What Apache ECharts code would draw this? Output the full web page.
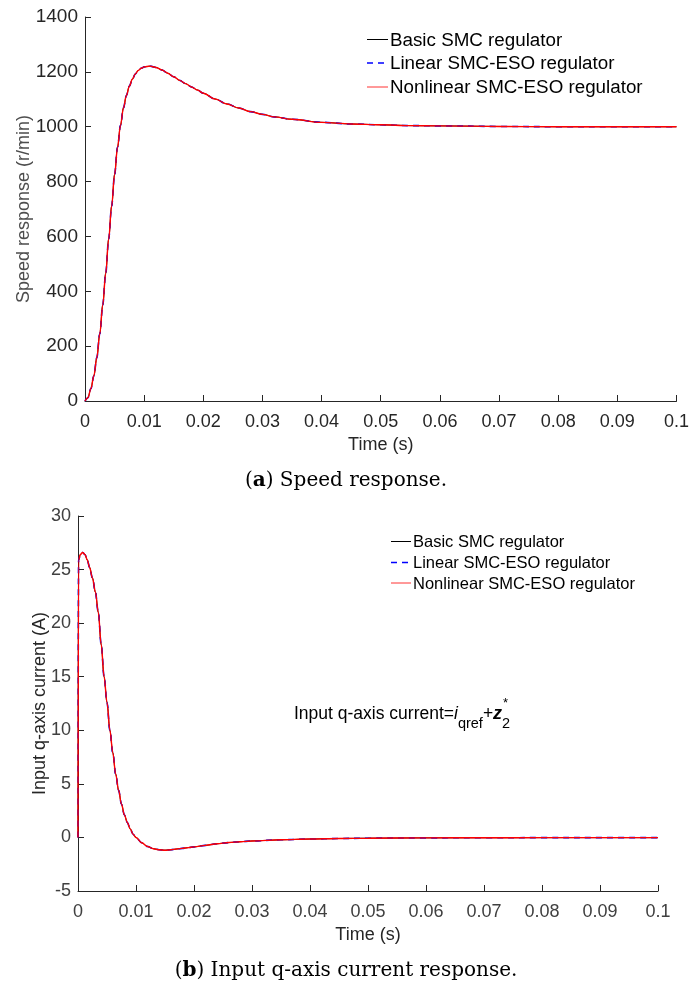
<!DOCTYPE html>
<html>
<head>
<meta charset="utf-8">
<script src="https://cdn.jsdelivr.net/npm/echarts@6/dist/echarts.min.js"></script>
<style>
html,body{margin:0;padding:0;background:#fff;}
#chart{width:692px;height:984px;}
</style>
</head>
<body>
<div id="chart"></div>
<script>
// ---------- data ----------
const seriesNames = ['Basic SMC regulator', 'Linear SMC-ESO regulator', 'Nonlinear SMC-ESO regulator'];
const xTickLabels = ['0','0.01','0.02','0.03','0.04','0.05','0.06','0.07','0.08','0.09','0.1'];
const speedTickLabels = ['0','200','400','600','800','1000','1200','1400'];
const currentTickLabels = ['-5','0','5','10','15','20','25','30'];

const speedTime = [0,0.0005,0.001,0.0015,0.002,0.0025,0.003,0.0035,0.004,0.0045,0.005,0.0055,0.006,0.0065,0.007,0.0075,0.008,0.0085,0.009,0.0095,0.01,0.011,0.012,0.013,0.014,0.015,0.016,0.017,0.018,0.019,0.02,0.022,0.024,0.026,0.028,0.03,0.032,0.035,0.04,0.045,0.05,0.055,0.06,0.07,0.08,0.09,0.1];
const speedBasic =     [0,12,45,92,158,245,350,465,590,710,825,925,1005,1068,1114,1148,1173,1192,1205,1213,1218,1221,1216,1207,1195,1182,1169,1157,1145,1134,1122,1101,1083,1068,1055,1045,1036,1027,1016,1010,1007,1004,1003,1001,1000,1000,1000];
const speedLinear =    [0,12,45,92,158,245,350,465,590,710,825,925,1005,1068,1114,1148,1173,1192,1205,1213,1218,1221,1216,1207,1195,1182,1169,1157,1145,1134,1122,1101,1083,1068,1055,1045,1036,1027,1016,1010,1007,1004,1003,1001,1000,1000,1000];
const speedNonlinear = [0,12,45,92,158,245,350,465,590,710,825,925,1005,1068,1114,1148,1173,1192,1205,1213,1218,1221,1216,1207,1195,1182,1169,1157,1145,1134,1122,1101,1083,1068,1055,1045,1036,1027,1016,1010,1007,1004,1003,1001,1000,1000,1000];

const currentTime = [0,0.0001,0.0004,0.0008,0.0012,0.0016,0.002,0.0025,0.003,0.0035,0.004,0.0045,0.005,0.0055,0.006,0.0065,0.007,0.0075,0.008,0.0085,0.009,0.0095,0.01,0.011,0.012,0.013,0.014,0.015,0.016,0.017,0.018,0.019,0.02,0.022,0.024,0.026,0.028,0.03,0.035,0.04,0.045,0.05,0.06,0.07,0.08,0.09,0.1];
const currentBasic =     [0,25.9,26.4,26.6,26.4,25.9,25.2,24.2,22.9,21.0,18.0,15.0,12.6,10.0,7.9,5.9,4.4,3.1,2.1,1.4,0.8,0.3,0.0,-0.5,-0.85,-1.05,-1.15,-1.19,-1.15,-1.08,-1.02,-0.95,-0.88,-0.74,-0.59,-0.48,-0.40,-0.33,-0.22,-0.15,-0.10,-0.07,-0.04,-0.03,-0.02,-0.02,-0.02];
const currentLinear =    [0,25.9,26.4,26.6,26.4,25.9,25.2,24.2,22.9,21.0,18.0,15.0,12.6,10.0,7.9,5.9,4.4,3.1,2.1,1.4,0.8,0.3,0.0,-0.5,-0.85,-1.05,-1.15,-1.19,-1.15,-1.08,-1.02,-0.95,-0.88,-0.74,-0.59,-0.48,-0.40,-0.33,-0.22,-0.15,-0.10,-0.07,-0.04,-0.03,-0.02,-0.02,-0.02];
const currentNonlinear = [0,25.9,26.4,26.6,26.4,25.9,25.2,24.2,22.9,21.0,18.0,15.0,12.6,10.0,7.9,5.9,4.4,3.1,2.1,1.4,0.8,0.3,0.0,-0.5,-0.85,-1.05,-1.15,-1.19,-1.15,-1.08,-1.02,-0.95,-0.88,-0.74,-0.59,-0.48,-0.40,-0.33,-0.22,-0.15,-0.10,-0.07,-0.04,-0.03,-0.02,-0.02,-0.02];

// ---------- chart ----------
const FONT = '"Liberation Sans", Arial, Helvetica, sans-serif';
const SERIF = '"DejaVu Serif", "Liberation Serif", serif';
const AX = '#262626';
const seriesColors = ['#000000', '#0000ff', '#ff0000'];
const legendLineColors = ['#000000', '#0000ff', '#ff3333'];

function pairs(t, v) { return t.map((x, i) => [x, v[i]]); }

function xAxisCfg(gi) {
  return {
    gridIndex: gi, type: 'value', min: 0, max: 0.1, interval: 0.01,
    name: 'Time (s)', nameLocation: 'middle', nameGap: 35, nameMoveOverlap: false,
    nameTextStyle: { fontFamily: FONT, fontSize: 18, color: AX },
    axisLine: { show: true, onZero: false, lineStyle: { color: AX, width: 1 } },
    axisTick: { show: true, inside: true, length: 6, lineStyle: { color: AX } },
    axisLabel: { margin: 12, fontFamily: FONT, fontSize: 18, color: gi === 0 ? AX : '#404040',
      formatter: v => xTickLabels[Math.round(v / 0.01)] },
    splitLine: { show: false }
  };
}

function seriesFor(gi, t, a, b, c) {
  return [
    { name: seriesNames[0], type: 'line', xAxisIndex: gi, yAxisIndex: gi, data: pairs(t, a),
      showSymbol: false, symbol: 'none', smooth: 0.35, smoothMonotone: 'x',
      lineStyle: { color: seriesColors[0], width: 1 } },
    { name: seriesNames[1], type: 'line', xAxisIndex: gi, yAxisIndex: gi, data: pairs(t, b),
      showSymbol: false, symbol: 'none', smooth: 0.35, smoothMonotone: 'x',
      lineStyle: { color: seriesColors[1], width: 1.6, type: [6, 5] } },
    { name: seriesNames[2], type: 'line', xAxisIndex: gi, yAxisIndex: gi, data: pairs(t, c),
      showSymbol: false, symbol: 'none', smooth: 0.35, smoothMonotone: 'x',
      lineStyle: { color: seriesColors[2], width: 1.4 } }
  ];
}

// legend drawn as graphic keys (line sample + label)
function legendGraphics(x0, lineLen, rowsY, fontSize) {
  const out = [];
  rowsY.forEach((y, i) => {
    const dashed = i === 1;
    out.push({ type: 'line', shape: { x1: x0, y1: y, x2: x0 + lineLen, y2: y },
      style: { stroke: legendLineColors[i], lineWidth: dashed ? 1.6 : 1, lineDash: dashed ? [6, 5] : null } });
    out.push({ type: 'text', x: x0 + lineLen + 2, y: y + 1,
      style: { text: seriesNames[i], font: fontSize + 'px ' + FONT, fill: '#000', verticalAlign: 'middle' } });
  });
  return out;
}

const chart = echarts.init(document.getElementById('chart'), null, { renderer: 'canvas', width: 692, height: 984 });

const option = {
  backgroundColor: '#ffffff',
  animation: false,
  grid: [
    { left: 85, top: 17, width: 594, height: 384 },
    { left: 78, top: 516, width: 580, height: 375 }
  ],
  xAxis: [xAxisCfg(0), xAxisCfg(1)],
  yAxis: [
    { gridIndex: 0, type: 'value', min: 0, max: 1400, interval: 200,
      name: 'Speed response (r/min)', nameLocation: 'middle', nameGap: 52, nameMoveOverlap: false,
      nameTextStyle: { fontFamily: FONT, fontSize: 18, color: '#4d4d4d' },
      axisLine: { show: true, lineStyle: { color: AX, width: 1 } },
      axisTick: { show: true, inside: true, length: 6, lineStyle: { color: AX } },
      axisLabel: { margin: 7, fontFamily: FONT, fontSize: 19, color: AX,
        formatter: v => speedTickLabels[Math.round(v / 200)] },
      splitLine: { show: false } },
    { gridIndex: 1, type: 'value', min: -5, max: 30, interval: 5,
      name: 'Input q-axis current (A)', nameLocation: 'middle', nameGap: 29, nameMoveOverlap: false,
      nameTextStyle: { fontFamily: FONT, fontSize: 18, color: AX },
      axisLine: { show: true, onZero: false, lineStyle: { color: AX, width: 1 } },
      axisTick: { show: true, inside: true, length: 6, lineStyle: { color: AX } },
      axisLabel: { margin: 7, fontFamily: FONT, fontSize: 18, color: '#404040',
        formatter: v => currentTickLabels[Math.round((v + 5) / 5)] },
      splitLine: { show: false } }
  ],
  series: [
    ...seriesFor(0, speedTime, speedBasic, speedLinear, speedNonlinear),
    ...seriesFor(1, currentTime, currentBasic, currentLinear, currentNonlinear)
  ],
  graphic: []
};

legendGraphics(367, 21, [39.5, 63, 87], 18.8).forEach(g => option.graphic.push(g));
legendGraphics(391, 20, [541.5, 562.5, 583], 16.5).forEach(g => option.graphic.push(g));

// captions
option.graphic.push({
  type: 'text', left: 'center', top: 471,
  style: { text: '({b|a}) Speed response.', font: '20px ' + SERIF, fill: '#000',
    rich: { b: { fontWeight: 'bold', fontFamily: SERIF, fontSize: 20 } } }
});
option.graphic.push({
  type: 'text', left: 'center', top: 961,
  style: { text: '({b|b}) Input q-axis current response.', font: '20px ' + SERIF, fill: '#000',
    rich: { b: { fontWeight: 'bold', fontFamily: SERIF, fontSize: 20 } } }
});

// annotation: Input q-axis current=i_qref + z*_2
(function () {
  const ctx = document.createElement('canvas').getContext('2d');
  function w(font, s) { ctx.font = font; return ctx.measureText(s).width; }
  const fMain = '17.5px ' + FONT;
  const fIt = 'italic 17.5px ' + FONT;
  const fSub = '14.5px ' + FONT;
  const fZ = 'italic bold 18px ' + FONT;
  const mid = 714;
  let x = 294;
  const parts = [];
  function add(text, font, y) {
    parts.push({ type: 'text', x: x, y: y, style: { text: text, font: font, fill: '#000', verticalAlign: 'middle' } });
    x += w(font, text);
  }
  add('Input q-axis current=', fMain, mid);
  add('i', fIt, mid);
  add('qref', fSub, mid + 10);
  add('+', fMain, mid);
  add('z', fZ, mid);
  parts.push({ type: 'text', x: x + 1, y: mid - 11, style: { text: '*', font: '13px ' + FONT, fill: '#000', verticalAlign: 'middle' } });
  add('2', fSub, mid + 10);
  parts.forEach(p => option.graphic.push(p));
})();

chart.setOption(option);
</script>
</body>
</html>
